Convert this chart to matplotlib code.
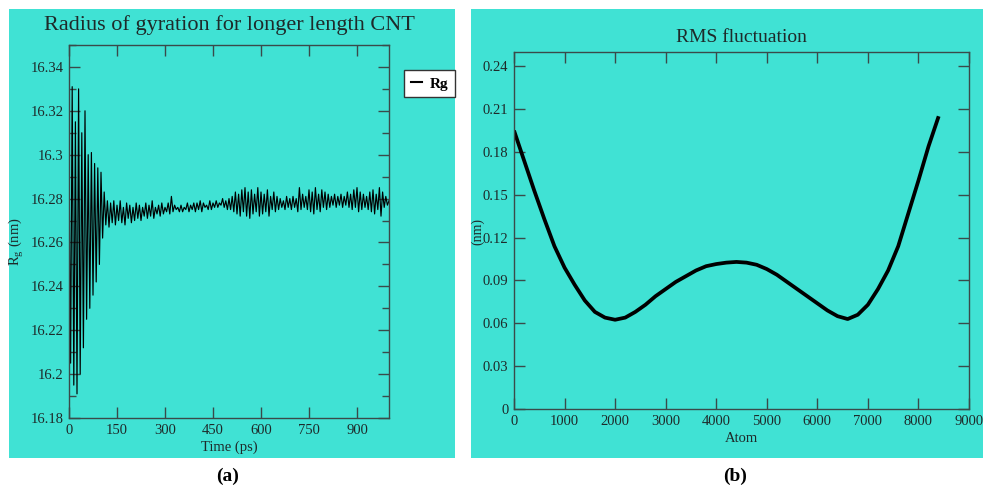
import matplotlib
matplotlib.use('Agg')
import matplotlib.pyplot as plt
from matplotlib.patches import Rectangle
from matplotlib.lines import Line2D
from matplotlib.ticker import MultipleLocator
import numpy as np

plt.rcParams['font.family'] = ['Liberation Serif', 'DejaVu Serif']
plt.rcParams['mathtext.fontset'] = 'custom'
plt.rcParams['mathtext.rm'] = 'Liberation Serif'
plt.rcParams['mathtext.it'] = 'Liberation Serif:italic'
plt.rcParams['mathtext.bf'] = 'Liberation Serif:bold'

# ---------------- data ----------------
# (a) Radius of gyration, sampled every 5 ps from 0 to 1000 ps
rg_time = np.arange(0, 1001, 5)
rg_values = [
    16.300, 16.205, 16.331, 16.195, 16.315, 16.191, 16.330, 16.200, 16.310, 16.212,
    16.320, 16.225, 16.300, 16.230, 16.301, 16.236, 16.296, 16.242, 16.294, 16.250,
    16.292, 16.262, 16.283, 16.268, 16.279, 16.267, 16.278, 16.269, 16.279, 16.268,
    16.277, 16.270, 16.279, 16.269, 16.276, 16.268, 16.278, 16.271, 16.277, 16.269,
    16.276, 16.270, 16.278, 16.271, 16.277, 16.270, 16.276, 16.272, 16.278, 16.271,
    16.277, 16.272, 16.279, 16.271, 16.276, 16.273, 16.277, 16.272, 16.278, 16.273,
    16.276, 16.274, 16.278, 16.273, 16.281, 16.274, 16.277, 16.275, 16.276, 16.274,
    16.277, 16.274, 16.276, 16.275, 16.278, 16.274, 16.277, 16.275, 16.278, 16.274,
    16.278, 16.275, 16.279, 16.274, 16.278, 16.276, 16.277, 16.275, 16.279, 16.275,
    16.278, 16.276, 16.279, 16.276, 16.278, 16.277, 16.280, 16.276, 16.279, 16.275,
    16.280, 16.275, 16.281, 16.274, 16.283, 16.273, 16.282, 16.272, 16.284, 16.274,
    16.285, 16.272, 16.283, 16.271, 16.284, 16.273, 16.282, 16.274, 16.285, 16.272,
    16.283, 16.273, 16.282, 16.274, 16.284, 16.272, 16.281, 16.275, 16.283, 16.274,
    16.281, 16.275, 16.280, 16.276, 16.279, 16.275, 16.281, 16.276, 16.280, 16.275,
    16.281, 16.276, 16.280, 16.274, 16.285, 16.275, 16.282, 16.276, 16.281, 16.275,
    16.284, 16.274, 16.283, 16.273, 16.285, 16.275, 16.282, 16.274, 16.284, 16.276,
    16.283, 16.275, 16.282, 16.276, 16.281, 16.277, 16.282, 16.276, 16.281, 16.277,
    16.282, 16.276, 16.281, 16.277, 16.283, 16.276, 16.282, 16.275, 16.284, 16.276,
    16.285, 16.274, 16.283, 16.275, 16.282, 16.276, 16.281, 16.275, 16.283, 16.274,
    16.284, 16.273, 16.282, 16.275, 16.285, 16.272, 16.283, 16.276, 16.281, 16.277,
    16.279,
]

# (b) RMS fluctuation per atom (centre of the band), every 200 atoms
rmsf_atom = np.arange(0, 8401, 200)
rmsf_values = [
    0.195, 0.174, 0.153, 0.133, 0.114, 0.099, 0.087, 0.076, 0.068, 0.064,
    0.0625, 0.064, 0.068, 0.073, 0.079, 0.084, 0.089, 0.093, 0.097, 0.100,
    0.1015, 0.1025, 0.103, 0.1025, 0.101, 0.098, 0.094, 0.089, 0.084, 0.079,
    0.074, 0.069, 0.065, 0.063, 0.066, 0.073, 0.084, 0.097, 0.114, 0.137,
    0.160, 0.184, 0.205,
]

rg_yticks = [16.18, 16.2, 16.22, 16.24, 16.26, 16.28, 16.3, 16.32, 16.34]
rg_xticks = [0, 150, 300, 450, 600, 750, 900]
rmsf_yticks = [0, 0.03, 0.06, 0.09, 0.12, 0.15, 0.18, 0.21, 0.24]
rmsf_xticks = [0, 1000, 2000, 3000, 4000, 5000, 6000, 7000, 8000, 9000]

# ---------------- figure ----------------
W, H = 983, 487
fig = plt.figure(figsize=(W / 100, H / 100), dpi=100)
BG = '#40e2d4'
TXT = '#1e2a2a'

def fx(px):
    return px / W

def fy(py):
    return 1 - py / H

fig.patches.append(Rectangle((fx(9), fy(458)), fx(446), 449 / H,
                             transform=fig.transFigure, facecolor=BG,
                             edgecolor='none', zorder=-10))
fig.patches.append(Rectangle((fx(471), fy(458)), fx(512), 449 / H,
                             transform=fig.transFigure, facecolor=BG,
                             edgecolor='none', zorder=-10))

def style(ax):
    ax.set_facecolor('none')
    for s in ax.spines.values():
        s.set_color('#3a4a4a')
        s.set_linewidth(1.0)
    ax.tick_params(which='both', direction='in', top=True, right=True,
                   colors='#3a4a4a', labelcolor=TXT, labelsize=10.5, pad=4)
    ax.tick_params(which='major', length=8, width=1.0)
    ax.tick_params(which='minor', length=5, width=1.0)

# left panel
ax1 = fig.add_axes([fx(69), fy(418), fx(320), 373 / H])
style(ax1)
ax1.plot(rg_time, rg_values, color='black', lw=0.85)
ax1.set_xlim(0, 1000)
ax1.set_ylim(16.18, 16.35)
ax1.set_xticks(rg_xticks)
ax1.set_xticklabels([str(v) for v in rg_xticks])
ax1.set_yticks(rg_yticks)
ax1.set_yticklabels(['16.18', '16.2', '16.22', '16.24', '16.26', '16.28', '16.3', '16.32', '16.34'])
ax1.yaxis.set_minor_locator(MultipleLocator(0.01))
ax1.set_xlabel('Time (ps)', fontsize=10.5, color=TXT, labelpad=3)
fig.text(fx(229), fy(25), 'Radius of gyration for longer length CNT',
         ha='center', va='center', fontsize=16, color=TXT)
fig.text(fx(16), fy(242), r'R$_\mathrm{g}$ (nm)', rotation=90,
         ha='center', va='center', fontsize=10.5, color=TXT)

leg = fig.legend(handles=[Line2D([], [], color='black', lw=1.5)], labels=['Rg'],
                 loc='upper left', bbox_to_anchor=(fx(404), fy(70)),
                 borderaxespad=0,
                 frameon=True, fancybox=False, edgecolor='#333333', framealpha=1,
                 handlelength=0.7, handletextpad=0.55, borderpad=0.45,
                 prop={'weight': 'bold', 'size': 11, 'family': 'Liberation Serif'})
leg.get_frame().set_linewidth(1.0)

# right panel
ax2 = fig.add_axes([fx(514), fy(409), fx(455), 357 / H])
style(ax2)
ax2.plot(rmsf_atom, rmsf_values, color='black', lw=2.7, solid_capstyle='butt')
ax2.set_xlim(0, 9000)
ax2.set_ylim(0, 0.25)
ax2.set_xticks(rmsf_xticks)
ax2.set_xticklabels([str(v) for v in rmsf_xticks])
ax2.set_yticks(rmsf_yticks)
ax2.set_yticklabels(['0', '0.03', '0.06', '0.09', '0.12', '0.15', '0.18', '0.21', '0.24'])
ax2.set_xlabel('Atom', fontsize=10.5, color=TXT, labelpad=3)
fig.text(fx(741.5), fy(37), 'RMS fluctuation', ha='center', va='center',
         fontsize=14, color=TXT)
fig.text(fx(478), fy(232), '(nm)', rotation=90, ha='center', va='center',
         fontsize=10, color=TXT)

# sub-figure labels
fig.text(fx(228), fy(476), '(a)', ha='center', va='center', fontsize=14,
         fontweight='bold', color='black')
fig.text(fx(735), fy(476), '(b)', ha='center', va='center', fontsize=14,
         fontweight='bold', color='black')

fig.savefig('out.png', dpi=100, facecolor='white')
